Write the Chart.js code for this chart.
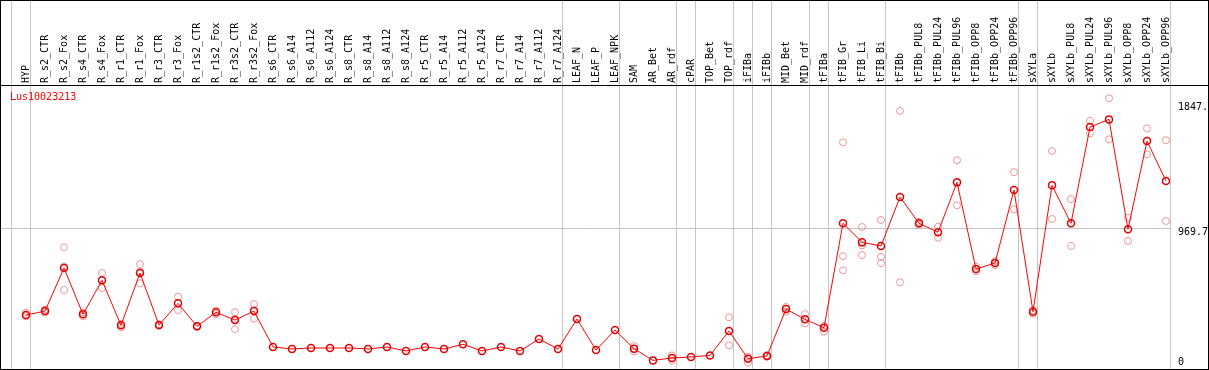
<!DOCTYPE html>
<html>
<head>
<meta charset="utf-8">
<script src="https://cdn.jsdelivr.net/npm/chart.js@4.4.0/dist/chart.umd.min.js"></script>
<style>
  html, body { margin: 0; padding: 0; background: #fff; }
</style>
</head>
<body>
<canvas id="c" width="1209" height="370"></canvas>
<script>
// expression profile of one gene: mean line + replicate dots, sample groups split by grey rules

const GENE_ID = 'Lus10023213';

const categories = [
  'HYP', 'R_s2_CTR', 'R_s2_Fox', 'R_s4_CTR', 'R_s4_Fox', 'R_r1_CTR', 'R_r1_Fox', 'R_r3_CTR',
  'R_r3_Fox', 'R_r1s2_CTR', 'R_r1s2_Fox', 'R_r3s2_CTR', 'R_r3s2_Fox', 'R_s6_CTR', 'R_s6_A14',
  'R_s6_A112', 'R_s6_A124', 'R_s8_CTR', 'R_s8_A14', 'R_s8_A112', 'R_s8_A124', 'R_r5_CTR',
  'R_r5_A14', 'R_r5_A112', 'R_r5_A124', 'R_r7_CTR', 'R_r7_A14', 'R_r7_A112', 'R_r7_A124',
  'LEAF_N', 'LEAF_P', 'LEAF_NPK', 'SAM', 'AR_Bet', 'AR_rdf', 'cPAR', 'TOP_Bet', 'TOP_rdf',
  'iFIBa', 'iFIBb', 'MID_Bet', 'MID_rdf', 'tFIBa', 'tFIB_Gr', 'tFIB_Li', 'tFIB_Bi', 'tFIBb',
  'tFIBb_PUL8', 'tFIBb_PUL24', 'tFIBb_PUL96', 'tFIBb_OPP8', 'tFIBb_OPP24', 'tFIBb_OPP96',
  'sXYLa', 'sXYLb', 'sXYLb_PUL8', 'sXYLb_PUL24', 'sXYLb_PUL96', 'sXYLb_OPP8', 'sXYLb_OPP24',
  'sXYLb_OPP96',
];

const meanVals = [
  361, 389, 691, 366, 605, 289, 656, 291, 443, 282, 380, 326, 389, 137, 123, 130, 130, 130, 123,
  137, 109, 137, 123, 156, 109, 137, 109, 193, 123, 333, 116, 256, 125, 43, 60, 67, 78, 249, 55,
  74, 403, 331, 272, 1005, 871, 846, 1189, 1005, 942, 1292, 684, 726, 1238, 385, 1271, 1005,
  1680, 1734, 963, 1582, 1302,
];

const rep1 = [
  378, 400, 836, 380, 656, 300, 719, 296, 490, 285, 392, 382, 438,
  null, null, null, null, null, null, null, null, null, null, null, null, null, null, null, null, null, null, null,
  143, null, 78, null, null, 345, 68, 80, 418, 368, 285, 1573, 979, 1028, 1793, 995, 981, 1447,
  700, 740, 1363, 370, 1512, 1175, 1723, 1882, 1044, 1671, 1587,
];

const rep2 = [
  352, 378, 537, 352, 551, 275, 584, 286, 396, 279, 368, 263, 335,
  null, null, null, null, null, null, null, null, null, null, null, null, null, null, null, null, null, null, null,
  105, null, 42, null, null, 149, 27, 68, 385, 303, 244, 775, 850, 770, 591, 1015, 904, 1131,
  668, 712, 1103, 395, 1035, 846, 1636, 1594, 881, 1489, 1021,
];

const rep3 = [
  null, null, 700, null, null, null, 665, null, null, null, null, 334, 394,
  null, null, null, null, null, null, null, null, null, null, null, null, null, null, null, null, null, null, null,
  null, null, null, null, null, null, null, null, null, null, null, 675, 782, 726, null, null, null, null,
  null, null, null, null, null, null, null, null, null, null, null,
];

// last sample index of each group (-1 = left edge)
const groupEnds = [-1, 0, 28, 31, 34, 35, 37, 38, 39, 41, 42, 45, 52, 53, 60];

const yTickValues = [0, 969.7, 1847];
const yTickLabels = ['0', '969.7', '1847.'];

const MONO = '"DejaVu Sans Mono", "Liberation Mono", monospace';
const RULE = '#c4c4c4';

const toPts = arr => arr.map((v, i) => (v == null ? null : { x: i, y: v })).filter(Boolean);

const framePlugin = {
  id: 'frame',
  beforeDraw(chart) {
    const { ctx, scales: { x }, height } = chart;
    ctx.save();
    ctx.strokeStyle = RULE;
    ctx.lineWidth = 1;
    groupEnds.forEach(g => {
      const px = Math.round(x.getPixelForValue(g + 0.23)) + 0.5;
      ctx.beginPath();
      ctx.moveTo(px, 0);
      ctx.lineTo(px, height);
      ctx.stroke();
    });
    ctx.restore();
  },
  afterDraw(chart) {
    const { ctx, chartArea: ca, scales: { y }, width, height } = chart;
    ctx.save();
    ctx.strokeStyle = '#000';
    ctx.lineWidth = 1;
    ctx.strokeRect(0.5, 0.5, width - 1, height - 1);
    ctx.beginPath();
    ctx.moveTo(0, ca.top + 0.5);
    ctx.lineTo(width, ca.top + 0.5);
    ctx.stroke();

    ctx.font = '10px ' + MONO;
    ctx.fillStyle = '#000';
    ctx.textAlign = 'left';
    ctx.textBaseline = 'middle';
    yTickValues.forEach((v, i) => {
      const py = Math.min(y.getPixelForValue(v) + 4, ca.bottom - 7);
      ctx.fillText(yTickLabels[i], ca.right + 8, py);
    });

    ctx.fillStyle = '#ff0000';
    ctx.textBaseline = 'alphabetic';
    ctx.fillText(GENE_ID, ca.left + 9, ca.top + 15);
    ctx.restore();
  },
};

const repStyle = {
  showLine: false,
  pointRadius: 3.5,
  pointBorderWidth: 1,
  pointBorderColor: 'rgb(238,150,150)',
  pointBackgroundColor: 'rgba(0,0,0,0)',
};

new Chart(document.getElementById('c'), {
  type: 'scatter',
  data: {
    datasets: [
      {
        label: 'mean', data: toPts(meanVals), showLine: true,
        borderColor: '#ff0000', borderWidth: 1,
        pointRadius: 3.5, pointBorderWidth: 1.5,
        pointBorderColor: '#e00000', pointBackgroundColor: 'rgba(0,0,0,0)',
      },
      { label: 'rep1', data: toPts(rep1), ...repStyle },
      { label: 'rep2', data: toPts(rep2), ...repStyle },
      { label: 'rep3', data: toPts(rep3), ...repStyle },
    ],
  },
  options: {
    responsive: false, devicePixelRatio: 1, animation: false,
    layout: { autoPadding: false, padding: { left: 1, right: 0, top: 0, bottom: 1 } },
    plugins: { legend: { display: false }, tooltip: { enabled: false } },
    scales: {
      x: {
        type: 'linear', position: 'top', min: -25 / 19, max: 1144 / 19,
        afterBuildTicks: s => { s.ticks = categories.map((_, i) => ({ value: i })); },
        afterFit: s => { s.height = 85; },
        ticks: {
          autoSkip: false, minRotation: 90, maxRotation: 90, padding: 2, labelOffset: 12,
          color: '#000', font: { family: MONO, size: 10 },
          callback: (v, i) => categories[i],
        },
        grid: { display: false, drawTicks: false },
        border: { display: false },
      },
      y: {
        type: 'linear', position: 'right', min: -17.5, max: 1975.2,
        afterBuildTicks: s => { s.ticks = yTickValues.map(v => ({ value: v })); },
        afterFit: s => { s.width = 39; },
        ticks: { display: false },
        grid: {
          drawTicks: false,
          color: c => (c.tick && c.tick.value === yTickValues[1] ? RULE : 'rgba(0,0,0,0)'),
        },
        border: { display: false },
      },
    },
  },
  plugins: [framePlugin],
});
</script>
</body>
</html>
